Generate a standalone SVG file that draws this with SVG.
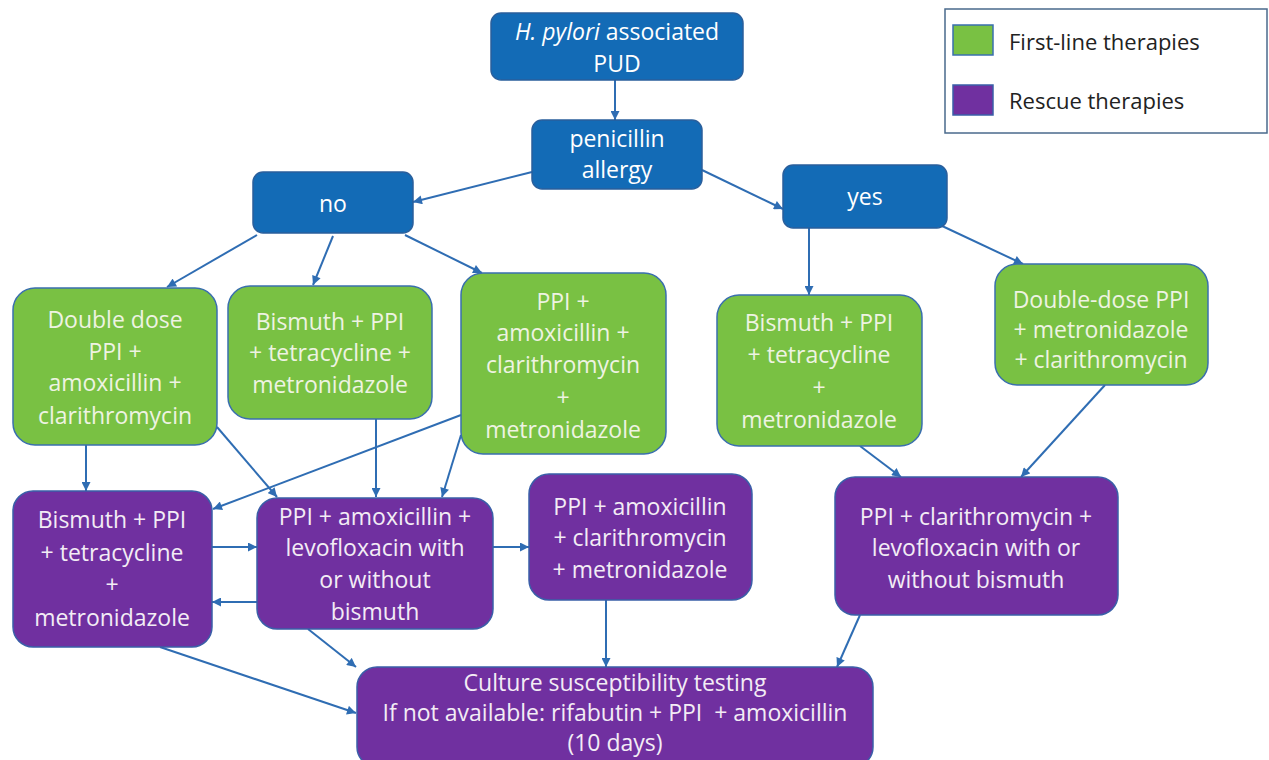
<svg xmlns="http://www.w3.org/2000/svg" width="1269" height="760" viewBox="0 0 1269 760">
<defs>
<marker id="ah" viewBox="0 0 10 10" refX="10" refY="5" markerWidth="10" markerHeight="9" markerUnits="userSpaceOnUse" orient="auto">
<path d="M0,0 L10,5 L0,10 z" fill="#2f6db3"/>
</marker>
<style>
.bg{fill:#ffffff}
.blue{fill:#136bb6;stroke:#2a5f9c;stroke-width:1.5}
.green{fill:#79c143;stroke:#3a6fae;stroke-width:1.5}
.purple{fill:#7030a0;stroke:#3a5fa8;stroke-width:1.5}
.t{font-family:"Open Sans","Liberation Sans",sans-serif;font-size:23px;text-anchor:middle}
.tw{fill:#ffffff}
.tg{fill:#eef3e2}
.tp{fill:#f3ecf5}
.conn line{stroke:#2f6db3;stroke-width:2;fill:none;marker-end:url(#ah)}
.leg{font-family:"Open Sans","Liberation Sans",sans-serif;font-size:22px;fill:#222222}
</style>
</defs>
<rect class="bg" x="0" y="0" width="1269" height="760"/>

<g id="connectors" class="conn">
<line x1="615" y1="80" x2="615" y2="120"/>
<line x1="532" y1="172" x2="413" y2="202"/>
<line x1="702" y1="170" x2="783" y2="209"/>
<line x1="257" y1="235" x2="167" y2="287"/>
<line x1="333" y1="236" x2="313" y2="285"/>
<line x1="405" y1="235" x2="482" y2="273"/>
<line x1="809" y1="228" x2="809" y2="295"/>
<line x1="940" y1="225" x2="1023" y2="264"/>
<line x1="86" y1="445" x2="86" y2="491"/>
<line x1="217" y1="427" x2="277" y2="497"/>
<line x1="376" y1="419" x2="376" y2="497"/>
<line x1="461" y1="415" x2="213" y2="509"/>
<line x1="461" y1="435" x2="442" y2="497"/>
<line x1="212" y1="547" x2="257" y2="547"/>
<line x1="257" y1="602" x2="212" y2="602"/>
<line x1="493" y1="547" x2="529" y2="547"/>
<line x1="860" y1="446" x2="901" y2="477"/>
<line x1="1105" y1="385" x2="1021" y2="477"/>
<line x1="160" y1="647" x2="356" y2="713"/>
<line x1="308" y1="629" x2="356" y2="667"/>
<line x1="606" y1="600" x2="606" y2="667"/>
<line x1="860" y1="615" x2="837" y2="667"/>
</g>

<g id="n-top">
<rect class="blue" x="491" y="13" width="252" height="67" rx="10"/>
<text class="t tw" x="617" y="40"><tspan font-style="italic">H. pylori</tspan> associated</text>
<text class="t tw" x="617" y="72">PUD</text>
</g>

<g id="n-penicillin">
<rect class="blue" x="532" y="120" width="170" height="69" rx="10"/>
<text class="t tw" x="617" y="147">penicillin</text>
<text class="t tw" x="617" y="178">allergy</text>
</g>

<g id="n-no">
<rect class="blue" x="253" y="172" width="160" height="61" rx="10"/>
<text class="t tw" x="333" y="212">no</text>
</g>

<g id="n-yes">
<rect class="blue" x="783" y="165" width="164" height="63" rx="10"/>
<text class="t tw" x="865" y="205">yes</text>
</g>

<g id="n-g1">
<rect class="green" x="13" y="288" width="204" height="157" rx="22"/>
<text class="t tg" x="115" y="328">Double dose</text>
<text class="t tg" x="115" y="360">PPI +</text>
<text class="t tg" x="115" y="391">amoxicillin +</text>
<text class="t tg" x="115" y="424">clarithromycin</text>
</g>

<g id="n-g2">
<rect class="green" x="228" y="286" width="204" height="133" rx="22"/>
<text class="t tg" x="330" y="330">Bismuth + PPI</text>
<text class="t tg" x="330" y="361">+ tetracycline +</text>
<text class="t tg" x="330" y="393">metronidazole</text>
</g>

<g id="n-g3">
<rect class="green" x="461" y="273" width="205" height="181" rx="22"/>
<text class="t tg" x="563" y="310">PPI +</text>
<text class="t tg" x="563" y="341">amoxicillin +</text>
<text class="t tg" x="563" y="373">clarithromycin</text>
<text class="t tg" x="563" y="406">+</text>
<text class="t tg" x="563" y="438">metronidazole</text>
</g>

<g id="n-g4">
<rect class="green" x="717" y="295" width="205" height="151" rx="22"/>
<text class="t tg" x="819" y="331">Bismuth + PPI</text>
<text class="t tg" x="819" y="363">+ tetracycline</text>
<text class="t tg" x="819" y="396">+</text>
<text class="t tg" x="819" y="428">metronidazole</text>
</g>

<g id="n-g5">
<rect class="green" x="995" y="264" width="213" height="121" rx="22"/>
<text class="t tg" x="1101" y="308">Double-dose PPI</text>
<text class="t tg" x="1101" y="338">+ metronidazole</text>
<text class="t tg" x="1101" y="368">+ clarithromycin</text>
</g>

<g id="n-p1">
<rect class="purple" x="13" y="491" width="199" height="156" rx="20"/>
<text class="t tp" x="112" y="528">Bismuth + PPI</text>
<text class="t tp" x="112" y="561">+ tetracycline</text>
<text class="t tp" x="112" y="593">+</text>
<text class="t tp" x="112" y="626">metronidazole</text>
</g>

<g id="n-p2">
<rect class="purple" x="257" y="498" width="236" height="131" rx="20"/>
<text class="t tp" x="375" y="525">PPI + amoxicillin +</text>
<text class="t tp" x="375" y="556">levofloxacin with</text>
<text class="t tp" x="375" y="588">or without</text>
<text class="t tp" x="375" y="620">bismuth</text>
</g>

<g id="n-p3">
<rect class="purple" x="529" y="474" width="223" height="126" rx="20"/>
<text class="t tp" x="640" y="515">PPI + amoxicillin</text>
<text class="t tp" x="640" y="546">+ clarithromycin</text>
<text class="t tp" x="640" y="578">+ metronidazole</text>
</g>

<g id="n-p4">
<rect class="purple" x="835" y="477" width="283" height="138" rx="20"/>
<text class="t tp" x="976" y="525">PPI + clarithromycin +</text>
<text class="t tp" x="976" y="556">levofloxacin with or</text>
<text class="t tp" x="976" y="588">without bismuth</text>
</g>

<g id="n-bottom">
<rect class="purple" x="357" y="667" width="516" height="100" rx="20"/>
<text class="t tp" x="615" y="691">Culture susceptibility testing</text>
<text class="t tp" x="615" y="721" style="white-space:pre">If not available: rifabutin + PPI  + amoxicillin</text>
<text class="t tp" x="615" y="751">(10 days)</text>
</g>

<g id="legend">
<rect x="945" y="9" width="322" height="124" fill="#ffffff" stroke="#4a6a8c" stroke-width="1.5"/>
<rect class="green" x="953" y="25" width="40" height="30"/>
<text class="leg" x="1009" y="50">First-line therapies</text>
<rect class="purple" x="953" y="85" width="40" height="30"/>
<text class="leg" x="1009" y="109">Rescue therapies</text>
</g>
</svg>
